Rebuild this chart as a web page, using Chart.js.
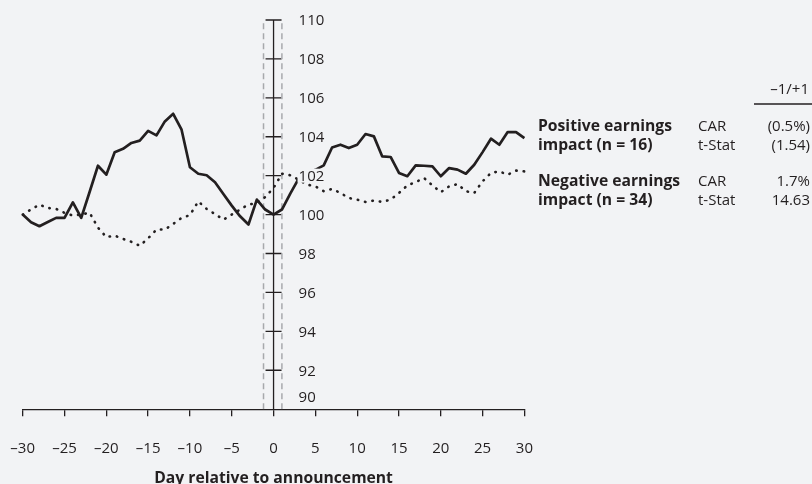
<!DOCTYPE html>
<html>
<head>
<meta charset="utf-8">
<script src="https://cdn.jsdelivr.net/npm/chart.js@4.4.1/dist/chart.umd.min.js"></script>
<style>
  html, body { margin: 0; padding: 0; background: #f2f3f5; }
  #wrap { width: 812px; height: 484px; }
</style>
</head>
<body>
<div id="wrap"><canvas id="chart" width="812" height="484"></canvas></div>
<script>
// Data
const days = [-30, -29, -28, -27, -26, -25, -24, -23, -22, -21, -20, -19, -18, -17, -16, -15,
  -14, -13, -12, -11, -10, -9, -8, -7, -6, -5, -4, -3, -2, -1, 0, 1, 2, 3, 4, 5, 6, 7, 8, 9,
  10, 11, 12, 13, 14, 15, 16, 17, 18, 19, 20, 21, 22, 23, 24, 25, 26, 27, 28, 29, 30];

// solid line: positive earnings impact (n = 16)
const positiveImpact = [100.0, 99.61, 99.4, 99.62, 99.83, 99.83, 100.63, 99.83, 101.16, 102.51,
  102.05, 103.2, 103.38, 103.68, 103.8, 104.3, 104.07, 104.79, 105.18, 104.36,
  102.43, 102.1, 102.02, 101.66, 101.06, 100.46, 99.91, 99.49, 100.77, 100.26,
  100.0, 100.26, 101.08, 101.85, 102.1, 102.3, 102.53, 103.45, 103.59, 103.42,
  103.59, 104.14, 104.02, 102.99, 102.96, 102.14, 101.97, 102.53, 102.51, 102.48,
  101.97, 102.39, 102.31, 102.1, 102.56, 103.21, 103.9, 103.59, 104.24, 104.24, 103.93];

// dotted line: negative earnings impact (n = 34)
const negativeImpact = [100.0, 100.26, 100.51, 100.34, 100.29, 100.09, 99.95, 100.0, 100.1, 99.33,
  98.84, 98.92, 98.75, 98.6, 98.4, 98.78, 99.23, 99.23, 99.52, 99.83,
  99.97, 100.68, 100.29, 100.03, 99.74, 100.0, 100.26, 100.51, 100.6, 100.9,
  101.37, 102.1, 102.02, 101.79, 101.54, 101.45, 101.2, 101.32, 101.11, 100.85,
  100.77, 100.65, 100.72, 100.65, 100.77, 101.11, 101.5, 101.67, 101.88, 101.5,
  101.15, 101.45, 101.57, 101.2, 101.11, 101.71, 102.14, 102.22, 102.05, 102.26, 102.22];

const yTicks = [90, 92, 94, 96, 98, 100, 102, 104, 106, 108, 110];
const windowDays = [-1.2, 1]; // announcement window markers

// summary table on the right
const tableHeader = '\u20131/+1';
const groupNames = [['Positive earnings', 'impact (n = 16)'], ['Negative earnings', 'impact (n = 34)']];
const statNames = ['CAR', 't-Stat'];
const statValues = [['(0.5%)', '(1.54)'], ['1.7%', '14.63']];

const ink = '#231f20';
const bg = '#f2f3f5';
const fontFamily = '"Open Sans", "Noto Sans", sans-serif';

// y axis sits at day 0, ticks cross it, labels to its right
const crossAxis = {
  id: 'crossAxis',
  beforeDatasetsDraw(chart) {
    const { ctx, scales: { x, y } } = chart;
    const x0 = x.getPixelForValue(0);
    ctx.save();
    ctx.strokeStyle = ink;
    ctx.lineWidth = 1.3;
    ctx.beginPath();
    ctx.moveTo(x0, y.getPixelForValue(yTicks[yTicks.length - 1]));
    ctx.lineTo(x0, y.getPixelForValue(yTicks[0]));
    yTicks.forEach(v => {
      if (v === yTicks[0]) return;
      const py = y.getPixelForValue(v);
      ctx.moveTo(x0 - 8, py);
      ctx.lineTo(x0 + 8, py);
    });
    ctx.stroke();
    ctx.restore();
  },
  afterDatasetsDraw(chart) {
    const { ctx, scales: { x, y } } = chart;
    const x0 = x.getPixelForValue(0);
    ctx.save();
    ctx.font = '15px ' + fontFamily;
    ctx.textBaseline = 'middle';
    ctx.textAlign = 'left';
    yTicks.forEach(v => {
      let py = y.getPixelForValue(v);
      if (v === yTicks[0]) py -= 12;
      const label = String(v);
      const w = ctx.measureText(label).width;
      ctx.fillStyle = bg;
      ctx.fillRect(x0 + 24, py - 7, w + 2, 14);
      ctx.fillStyle = ink;
      ctx.fillText(label, x0 + 25, py + 1);
    });
    ctx.restore();
  },
  afterDraw(chart) {
    const { ctx } = chart;
    ctx.save();
    ctx.fillStyle = ink;
    ctx.textBaseline = 'alphabetic';
    ctx.font = '15px ' + fontFamily;
    ctx.textAlign = 'right';
    ctx.fillText(tableHeader, 809, 94);
    ctx.strokeStyle = ink;
    ctx.lineWidth = 1.3;
    ctx.beginPath();
    ctx.moveTo(754, 104);
    ctx.lineTo(812, 104);
    ctx.stroke();
    const rowTop = [131, 186];
    groupNames.forEach((lines, g) => {
      lines.forEach((txt, k) => {
        const by = rowTop[g] + k * 19;
        ctx.font = 'bold 15.7px ' + fontFamily;
        ctx.textAlign = 'left';
        ctx.fillText(txt, 538, by);
        ctx.font = '15px ' + fontFamily;
        ctx.fillText(statNames[k], 698, by);
        ctx.textAlign = 'right';
        ctx.fillText(statValues[g][k], 810, by);
      });
    });
    ctx.restore();
  }
};

const windowSets = windowDays.map(d => ({
  data: [{ x: d, y: yTicks[0] }, { x: d, y: yTicks[yTicks.length - 1] }],
  borderColor: '#a7a9ac',
  borderWidth: 1.5,
  borderDash: [6, 4],
  pointRadius: 0
}));

new Chart(document.getElementById('chart'), {
  type: 'line',
  data: {
    datasets: [
      {
        label: 'Positive earnings impact (n = 16)',
        data: days.map((d, i) => ({ x: d, y: positiveImpact[i] })),
        borderColor: ink,
        borderWidth: 2.7,
        borderJoinStyle: 'round',
        pointRadius: 0,
        tension: 0,
        clip: false
      },
      {
        label: 'Negative earnings impact (n = 34)',
        data: days.map((d, i) => ({ x: d, y: negativeImpact[i] })),
        borderColor: ink,
        borderWidth: 2.6,
        borderDash: [0.5, 7],
        borderCapStyle: 'round',
        pointRadius: 0,
        tension: 0,
        clip: false
      },
      ...windowSets
    ]
  },
  options: {
    responsive: false,
    animation: false,
    devicePixelRatio: 1,
    layout: { padding: { left: 22.7, right: 287.6, top: 20, bottom: -4 } },
    plugins: { legend: { display: false }, tooltip: { enabled: false } },
    scales: {
      x: {
        type: 'linear',
        min: -30,
        max: 30,
        // the tick padding would otherwise push the plot area to the right
        afterFit: scale => { scale.paddingLeft = 0; scale.paddingRight = 0; },
        grid: { drawOnChartArea: false, drawTicks: true, tickLength: 7, color: ink, lineWidth: 1.3 },
        border: { display: true, color: ink, width: 1.3 },
        ticks: {
          stepSize: 5,
          padding: 24,
          color: ink,
          font: { family: fontFamily, size: 15 },
          maxRotation: 0,
          callback: v => String(v).replace('-', '\u2013')
        },
        title: {
          display: true,
          text: 'Day relative to announcement',
          color: ink,
          font: { family: fontFamily, size: 15.7, weight: 'bold', lineHeight: 1.2 },
          padding: { top: -13, bottom: 0 }
        }
      },
      y: {
        type: 'linear',
        min: 90,
        max: 110,
        display: false
      }
    }
  },
  plugins: [crossAxis]
});
</script>
</body>
</html>
